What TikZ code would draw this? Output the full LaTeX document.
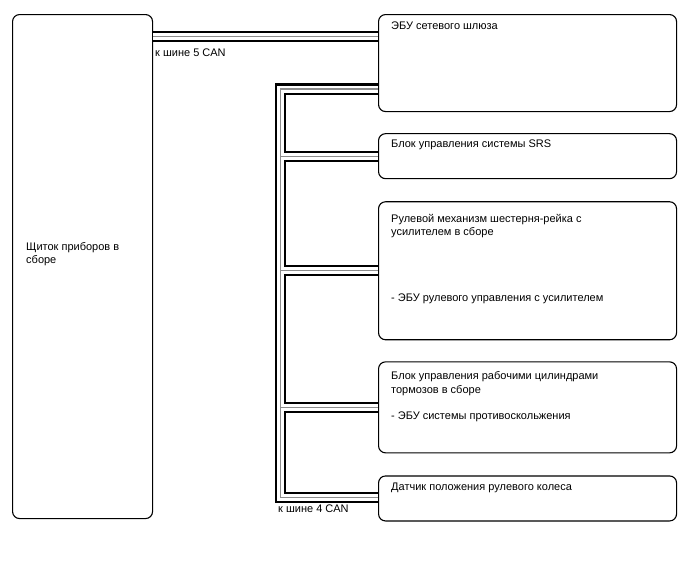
\documentclass[tikz,border=0pt]{standalone}
\usepackage{fontspec}
\setmainfont{Liberation Sans}
\usepackage{tikz}
\usetikzlibrary{positioning,calc}
\definecolor{busgray}{HTML}{8C8C8C}

\begin{document}
\begin{tikzpicture}[x=1pt, y=-1pt,
  unit/.style={draw, line width=1.1pt, rounded corners=7pt, minimum width=298pt, inner sep=0pt},
  note/.style={anchor=base west, inner sep=0pt, align=left, font=\fontsize{11}{13.3}\selectfont},
  bus/.style={white, line width=7pt, line join=miter,
    preaction={draw, black, line width=11.2pt},
    postaction={draw, busgray, line width=1.1pt}}
]
  \useasboundingbox (0,0) rectangle (688,560);

  \node[unit, anchor=north west, minimum width=140pt, minimum height=504pt] (panel) at (12,14) {};
  \node[unit, anchor=north west, minimum height=97pt] (gw) at (378,14) {};
  \node[unit, below=21pt of gw, minimum height=45pt] (srs) {};
  \node[unit, below=22pt of srs, minimum height=138pt] (steer) {};
  \node[unit, below=21pt of steer, minimum height=91pt] (brake) {};
  \node[unit, below=22pt of brake, minimum height=45pt] (sas) {};

  % multi-line notes sit on the baseline of their last line
  \node[note] (paneltxt) at ([shift={(14,249.5)}]panel.north west) {Щиток приборов в\\сборе};
  \node[note] (gwtxt) at ([shift={(13,15)}]gw.north west) {ЭБУ сетевого шлюза};
  \node[note] (srstxt) at ([shift={(13,14)}]srs.north west) {Блок управления системы SRS};
  \node[note] (steertxt) at ([shift={(13,34.3)}]steer.north west) {Рулевой механизм шестерня-рейка с\\усилителем в сборе};
  \node[note] (steerecu) at ([shift={(13,100.5)}]steer.north west) {- ЭБУ рулевого управления с усилителем};
  \node[note] (braketxt) at ([shift={(13,31.8)}]brake.north west) {Блок управления рабочими цилиндрами\\тормозов в сборе};
  \node[note] (brakeecu) at ([shift={(13,58.5)}]brake.north west) {- ЭБУ системы противоскольжения};
  \node[note] (sastxt) at ([shift={(13,15)}]sas.north west) {Датчик положения рулевого колеса};

  % CAN buses
  \coordinate (can5) at ([shift={(0,22.7)}]gw.north west);
  \coordinate (gwport) at ([shift={(0,75)}]gw.north west);
  \coordinate (bend) at (280.5,0);

  \draw[bus] (panel.east |- can5) -- (can5);
  \draw[bus] (gwport) -- (gwport -| bend) |- ([shift={(0,-1)}]sas.west)
    (bend |- srs.west) -- (srs.west)
    (bend |- steer.west) -- (steer.west)
    (bend |- brake.west) -- (brake.west);

  \node[note] (can5txt) at (155,56.5) {к шине 5 CAN};
  \node[note] (can4txt) at (278,512) {к шине 4 CAN};
\end{tikzpicture}
\end{document}
